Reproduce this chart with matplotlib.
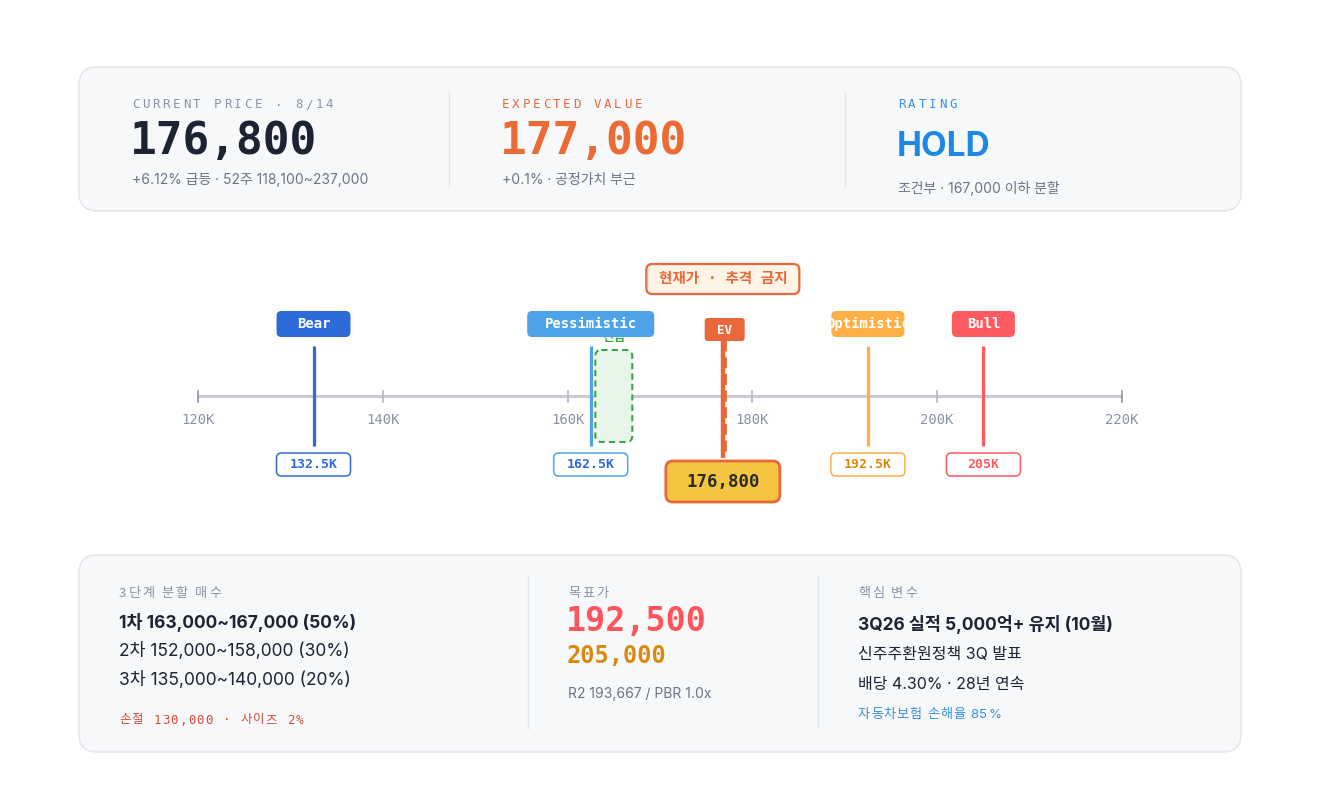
import matplotlib
matplotlib.use("Agg")
import matplotlib.pyplot as plt
from matplotlib.patches import FancyBboxPatch

# ---- data ----
scenario_names = ["Bear", "Pessimistic", "Optimistic", "Bull"]
scenario_values = [132.5, 162.5, 192.5, 205.0]  # in K
ev_value = 177.0
current_price = 176.8
entry_zone = (163.0, 167.0)
axis_ticks = [120, 140, 160, 180, 200, 220]

price_now = "176,800"
price_ev = "177,000"
rating = "HOLD"
target_main = "192,500"
target_bull = "205,000"
buy_steps = ["1차 163,000~167,000 (50%)",
             "2차 152,000~158,000 (30%)",
             "3차 135,000~140,000 (20%)"]
key_vars = ["3Q26 실적 5,000억+ 유지 (10월)",
            "신주주환원정책 3Q 발표",
            "배당 4.30% · 28년 연속"]

# ---- style ----
SANS = ["Inter", "Noto Sans CJK KR", "DejaVu Sans"]
MONO = ["DejaVu Sans Mono", "Noto Sans CJK KR"]
KR = ["Noto Sans CJK KR", "DejaVu Sans"]
GRAY = "#8A93A6"
SUB = "#6B7385"
DARK = "#1C2333"
ORANGE = "#E8683A"
scen_colors = ["#2D6BD8", "#4EA3E8", "#FFAF45", "#FF5A5F"]
scen_text = ["#2D6BD8", "#2D6BD8", "#D98A0E", "#FF5A5F"]
label_w = [74, 127, 73, 63]

W, H = 1320, 793
fig = plt.figure(figsize=(W / 100, H / 100), dpi=100)
fig.patch.set_facecolor("white")

ax = fig.add_axes([0, 0, 1, 1])
ax.set_xlim(0, W)
ax.set_ylim(H, 0)
ax.axis("off")
renderer = fig.canvas.get_renderer()


def tracked(x, y, s, track, **kw):
    # letter-spaced text, y is the baseline
    for ch in s:
        t = ax.text(x, y, ch, va="baseline", ha="left", **kw)
        x += t.get_window_extent(renderer).width + track


def card(x, y, w, h):
    ax.add_patch(FancyBboxPatch((x, y), w, h,
                                boxstyle="round,pad=0,rounding_size=18",
                                fc="#F7F8FA", ec="#E2E5E9", lw=1.0))


# top card
card(79, 67, 1162, 144)
for xd in (449, 845):
    ax.plot([xd, xd], [91, 187], color="#E3E6EA", lw=1)

tracked(132, 108.5, "CURRENT PRICE · 8/14", 2.7, family=MONO, fontsize=9, color=GRAY)
ax.text(130, 141, price_now, family=MONO, fontsize=32, fontweight="bold",
        color=DARK, va="center")
ax.text(132, 180, "+6.12% 급등 · 52주 118,100~237,000", family=SANS,
        fontsize=10, color=SUB, va="center")

tracked(502, 108.5, "EXPECTED VALUE", 2.7, family=MONO, fontsize=9, color=ORANGE)
ax.text(500, 141, price_ev, family=MONO, fontsize=32, fontweight="bold",
        color="#EC6B35", va="center")
ax.text(502, 180, "+0.1% · 공정가치 부근", family=SANS, fontsize=10,
        color=SUB, va="center")

tracked(898, 108.5, "RATING", 2.7, family=MONO, fontsize=9, color="#3A8EE6")
ax.text(897, 147, rating, family=SANS, fontsize=24, fontweight="bold",
        color="#1E88E5", va="center")
ax.text(898, 188, "조건부 · 167,000 이하 분할", family=SANS, fontsize=10,
        color=SUB, va="center")

# bottom card
card(79, 555, 1162, 197)
for xd in (528, 818):
    ax.plot([xd, xd], [576, 728], color="#E3E6EA", lw=1)

tracked(119, 597, "3단계 분할 매수", 2.0, family=KR, fontsize=9.5, color=GRAY)
for i, line in enumerate(buy_steps):
    ax.text(119, 622 + 29 * i, line, family=SANS, fontsize=12.5,
            fontweight="bold" if i == 0 else "normal", color=DARK, va="center")
tracked(119, 723.5, "손절 130,000 · 사이즈 2%", 1.2, family=MONO, fontsize=9,
        color="#D64A3A")

tracked(568, 597, "목표가", 2.0, family=KR, fontsize=9.5, color=GRAY)
ax.text(566, 622, target_main, family=MONO, fontsize=24, fontweight="bold",
        color="#FF545C", va="center")
ax.text(567, 656, target_bull, family=MONO, fontsize=17, fontweight="bold",
        color="#D98A0E", va="center")
ax.text(568, 694, "R2 193,667 / PBR 1.0x", family=SANS, fontsize=10,
        color=SUB, va="center")

tracked(858, 597, "핵심 변수", 2.0, family=KR, fontsize=9.5, color=GRAY)
ax.text(858, 625, key_vars[0], family=SANS, fontsize=12.5, fontweight="bold",
        color=DARK, va="center")
ax.text(858, 655, key_vars[1], family=SANS, fontsize=11.5, color=DARK, va="center")
ax.text(858, 684, key_vars[2], family=SANS, fontsize=11.5, color=DARK, va="center")
tracked(858, 718, "자동차보험 손해율 85%", 0.8, family=SANS, fontsize=9.5,
        color="#3A8EE6")

# ---- timeline (x in K) ----
X0, X1 = 198, 1122
ppk = (X1 - X0) / (axis_ticks[-1] - axis_ticks[0])
ax_t = fig.add_axes([0, 0, 1, 1])
ax_t.set_xlim(axis_ticks[0] - X0 / ppk, axis_ticks[-1] + (W - X1) / ppk)
ax_t.set_ylim(H, 0)
ax_t.axis("off")
ax_t.patch.set_alpha(0)


def kbox(xc, yc, w_px, h_px, r_px, **kw):
    w = w_px / ppk
    p = FancyBboxPatch((xc - w / 2, yc - h_px / 2), w, h_px,
                       boxstyle=f"round,pad=0,rounding_size={r_px / ppk}",
                       mutation_aspect=ppk, **kw)
    ax_t.add_patch(p)
    return p


AXIS_Y = 396
ax_t.plot([axis_ticks[0], axis_ticks[-1]], [AXIS_Y, AXIS_Y], color="#C9CCD2",
          lw=2.2, solid_capstyle="butt", zorder=1)
for i, t in enumerate(axis_ticks):
    end = i in (0, len(axis_ticks) - 1)
    ax_t.plot([t, t], [391, 402], color="#8E939B" if end else "#B4B8BF",
              lw=1.2, zorder=1)
    ax_t.text(t, 420, f"{t}K", family=MONO, fontsize=10, color=GRAY,
              ha="center", va="center")

# entry zone
zone = kbox(sum(entry_zone) / 2, 396, (entry_zone[1] - entry_zone[0]) * ppk,
            92, 6, fc="#E8F5E9", ec="#3DA34A", lw=1.5, ls=(0, (3, 2)), zorder=2)
ax_t.text(sum(entry_zone) / 2, 338, "진입", family=KR, fontsize=9,
          fontweight="bold", color="#3DA34A", ha="center", va="center", zorder=2)

# scenarios
for name, v, c, tc, lw_px in zip(scenario_names, scenario_values, scen_colors,
                                 scen_text, label_w):
    ax_t.plot([v, v], [346, 446], color=c, lw=2.3, solid_capstyle="butt", zorder=3)
    box = kbox(v, 324, lw_px, 26, 5, fc=c, ec="none", zorder=5)
    t = ax_t.text(v, 324, name, family=MONO, fontsize=10, fontweight="bold",
                  color="white", ha="center", va="center", zorder=6)
    t.set_clip_path(box)
    kbox(v, 464.5, 74, 23, 5, fc="white", ec=c, lw=1.1, zorder=5)
    ax_t.text(v, 465, f"{v:g}K", family=MONO, fontsize=9.5, fontweight="bold",
              color=tc, ha="center", va="center", zorder=6)

# EV and current price
ax_t.plot([ev_value, ev_value], [340, 455], color=ORANGE, lw=2.0,
          ls=(0, (4, 2)), zorder=4)
ax_t.plot([current_price, current_price], [340, 458], color=ORANGE, lw=3.2,
          solid_capstyle="butt", zorder=4)
kbox(ev_value, 329.5, 40, 23, 3, fc=ORANGE, ec="none", zorder=5)
ax_t.text(ev_value, 330, "EV", family=MONO, fontsize=9, fontweight="bold",
          color="white", ha="center", va="center", zorder=6)
kbox(current_price, 481.5, 114, 41, 7, fc="#F5C542", ec=ORANGE, lw=2, zorder=5)
ax_t.text(current_price, 482, price_now, family=MONO, fontsize=12.5,
          fontweight="bold", color="#2B2B2B", ha="center", va="center", zorder=6)
kbox(current_price, 279, 153, 30, 6, fc="#FFF4E5", ec=ORANGE, lw=1.6, zorder=5)
ax_t.text(current_price, 279, "현재가 · 추격 금지", family=MONO, fontsize=10.5,
          fontweight="bold", color=ORANGE, ha="center", va="center", zorder=6)

fig.savefig("out.png", dpi=100, facecolor="white")
